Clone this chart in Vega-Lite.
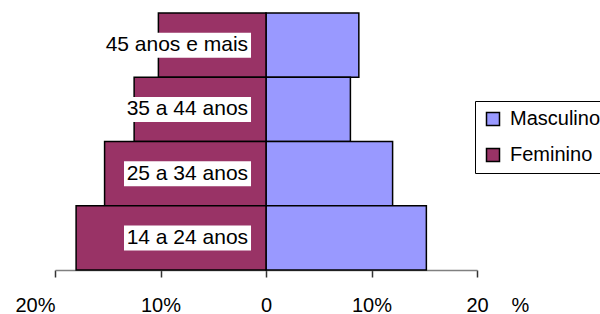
{
  "$schema": "https://vega.github.io/schema/vega-lite/v6.json",
  "autosize": {"type": "none"},
  "width": 422,
  "height": 257,
  "padding": {"left": 55, "top": 13, "right": 123, "bottom": 44},
  "background": "white",
  "config": {"view": {"stroke": null}, "font": "Liberation Sans"},
  "data": {
    "values": [
      {"idade": "45 anos e mais", "sexo": "Masculino", "valor": 8.8},
      {"idade": "35 a 44 anos", "sexo": "Masculino", "valor": 8.0},
      {"idade": "25 a 34 anos", "sexo": "Masculino", "valor": 12.0},
      {"idade": "14 a 24 anos", "sexo": "Masculino", "valor": 15.2},
      {"idade": "45 anos e mais", "sexo": "Feminino", "valor": -10.2},
      {"idade": "35 a 44 anos", "sexo": "Feminino", "valor": -12.5},
      {"idade": "25 a 34 anos", "sexo": "Feminino", "valor": -15.3},
      {"idade": "14 a 24 anos", "sexo": "Feminino", "valor": -18.0}
    ]
  },
  "encoding": {
    "y": {
      "field": "idade",
      "type": "nominal",
      "sort": ["45 anos e mais", "35 a 44 anos", "25 a 34 anos", "14 a 24 anos"],
      "scale": {"paddingInner": 0, "paddingOuter": 0},
      "axis": null
    }
  },
  "layer": [
    {
      "mark": {"type": "bar", "stroke": "#000000", "strokeWidth": 1.5},
      "encoding": {
        "x": {
          "field": "valor",
          "type": "quantitative",
          "stack": null,
          "scale": {"domain": [-20, 20], "nice": false},
          "axis": {
            "values": [-20, -10, 0, 10, 20],
            "labelExpr": "datum.value == 0 ? '0' : datum.value == 20 ? '20' : abs(datum.value) + '%'",
            "labelFontSize": 20,
            "labelColor": "#000000",
            "labelBaseline": "alphabetic",
            "labelPadding": 34,
            "labelAlign": {"condition": {"test": "datum.value == -20", "value": "right"}, "value": "center"},
            "labelFlush": false,
            "labelOverlap": false,
            "tickSize": 7,
            "tickWidth": 1.5,
            "tickColor": "#333333",
            "domainColor": "#808080",
            "domainWidth": 1.5,
            "grid": false,
            "title": "%",
            "titleX": 465,
            "titleY": 41,
            "titleAlign": "center",
            "titleBaseline": "alphabetic",
            "titleFontSize": 20,
            "titleFontWeight": "normal",
            "titleColor": "#000000"
          }
        },
        "color": {
          "field": "sexo",
          "type": "nominal",
          "scale": {"domain": ["Masculino", "Feminino"], "range": ["#9999FF", "#993366"]},
          "legend": {
            "orient": "none",
            "legendX": 420,
            "legendY": 88,
            "title": null,
            "symbolType": "square",
            "symbolSize": 169,
            "symbolStrokeColor": "#000000",
            "symbolStrokeWidth": 1.5,
            "symbolOpacity": 1,
            "labelFontSize": 20,
            "labelColor": "#000000",
            "labelOffset": 7,
            "rowPadding": 16,
            "padding": 8,
            "strokeColor": "#000000",
            "fillColor": "#ffffff",
            "labelLimit": 300
          }
        }
      }
    },
    {
      "transform": [{"filter": "datum.sexo == 'Feminino' && datum.idade == '45 anos e mais'"}],
      "mark": {"type": "bar", "height": 25, "fill": "#ffffff", "stroke": null},
      "encoding": {"x": {"datum": -15.3}, "x2": {"datum": -1.42}}
    },
    {
      "transform": [{"filter": "datum.sexo == 'Feminino' && datum.idade != '45 anos e mais'"}],
      "mark": {"type": "bar", "height": 25, "fill": "#ffffff", "stroke": null},
      "encoding": {"x": {"datum": -13.46}, "x2": {"datum": -1.42}}
    },
    {
      "transform": [{"filter": "datum.sexo == 'Feminino'"}],
      "mark": {"type": "text", "align": "right", "baseline": "middle", "fontSize": 21, "fill": "#000000"},
      "encoding": {"x": {"datum": -1.7}, "text": {"field": "idade"}}
    }
  ]
}
